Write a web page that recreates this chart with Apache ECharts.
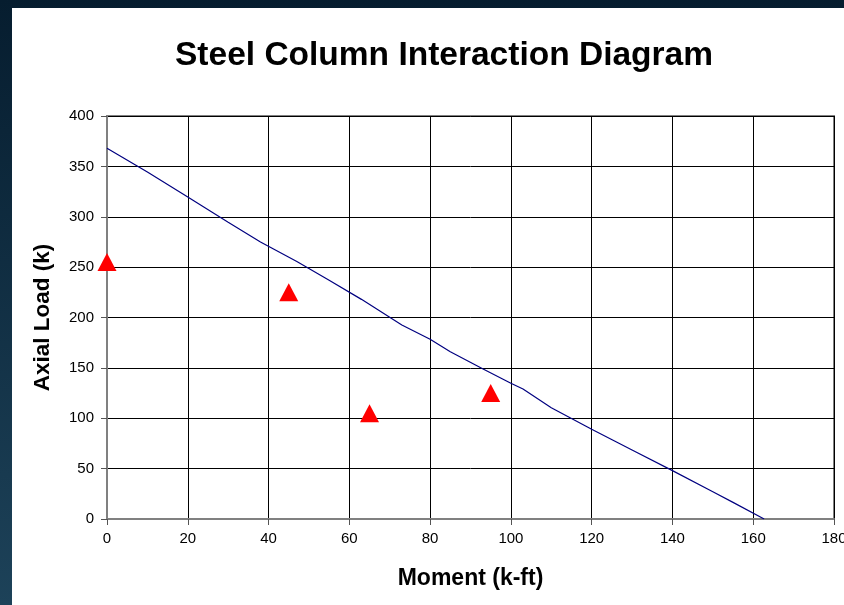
<!DOCTYPE html>
<html>
<head>
<meta charset="utf-8">
<script src="https://cdn.jsdelivr.net/npm/echarts@6/dist/echarts.min.js"></script>
<style>
html,body{margin:0;padding:0;background:#10304a;}
#c{width:844px;height:605px;}
</style>
</head>
<body>
<div id="c"></div>
<script>
// Interaction curve (Moment k-ft, Axial Load k)
const curveMoment = [0, 10, 20, 30, 38, 47, 55, 63, 73, 80, 85, 93, 100, 103, 110, 120, 130, 140, 150, 155, 162.7];
const curveAxial  = [368, 344.4, 319.5, 294.5, 275, 255.5, 237, 218, 192.6, 178.4, 166, 149.2, 134.7, 129, 110.5, 89, 68.5, 48, 27, 16.5, 0];
// Load points
const pointMoment = [0, 45, 65, 95];
const pointAxial  = [255, 225, 105, 125];
const xTicks = [0, 20, 40, 60, 80, 100, 120, 140, 160, 180];
const yTicks = [0, 50, 100, 150, 200, 250, 300, 350, 400];

const chart = echarts.init(document.getElementById('c'), null, {renderer: 'canvas'});
const font = 'Liberation Sans, Arial, sans-serif';
chart.setOption({
  backgroundColor: {
    type: 'linear', x: 0, y: 0, x2: 0, y2: 1,
    colorStops: [{offset: 0, color: '#061d2f'}, {offset: 1, color: '#1d4259'}]
  },
  animation: false,
  graphic: [
    {type: 'rect', shape: {x: 12, y: 8, width: 832, height: 597}, style: {fill: '#ffffff'}, z: -10},
    {type: 'text', x: 444, y: 56, style: {text: 'Steel Column Interaction Diagram', font: 'bold 33.5px ' + font, fill: '#000', textAlign: 'center', textVerticalAlign: 'middle'}}
  ],
  grid: {left: 107, right: 10, top: 116, bottom: 86, outerBoundsMode: 'none', containLabel: false, show: true, borderColor: '#808080', borderWidth: 2},
  xAxis: {
    type: 'value', min: xTicks[0], max: xTicks[xTicks.length - 1], interval: 20,
    name: 'Moment (k-ft)', nameLocation: 'middle', nameGap: 48,
    nameTextStyle: {fontFamily: font, fontWeight: 'bold', fontSize: 23, color: '#000'},
    axisLine: {show: true, lineStyle: {color: '#808080', width: 2}},
    axisTick: {show: true, length: 6, lineStyle: {color: '#555'}},
    axisLabel: {fontFamily: font, fontSize: 15, color: '#000', margin: 12},
    splitLine: {show: true, lineStyle: {color: '#000', width: 1}}
  },
  yAxis: {
    type: 'value', min: yTicks[0], max: yTicks[yTicks.length - 1], interval: 50,
    name: 'Axial Load (k)', nameLocation: 'middle', nameGap: 53,
    nameTextStyle: {fontFamily: font, fontWeight: 'bold', fontSize: 22.5, color: '#000'},
    axisLine: {show: true, lineStyle: {color: '#808080', width: 2}},
    axisTick: {show: true, length: 6, lineStyle: {color: '#555'}},
    axisLabel: {fontFamily: font, fontSize: 15, color: '#000', margin: 13},
    splitLine: {show: true, lineStyle: {color: '#000', width: 1}}
  },
  series: [
    {
      type: 'line', data: curveMoment.map((m, i) => [m, curveAxial[i]]),
      showSymbol: false, symbol: 'none',
      lineStyle: {color: '#000080', width: 1.2}, z: 3
    },
    {
      type: 'scatter', data: pointMoment.map((m, i) => [m, pointAxial[i]]),
      symbol: 'triangle', symbolSize: [19, 18],
      itemStyle: {color: '#ff0000', opacity: 1}, z: 4
    }
  ]
});
</script>
</body>
</html>
